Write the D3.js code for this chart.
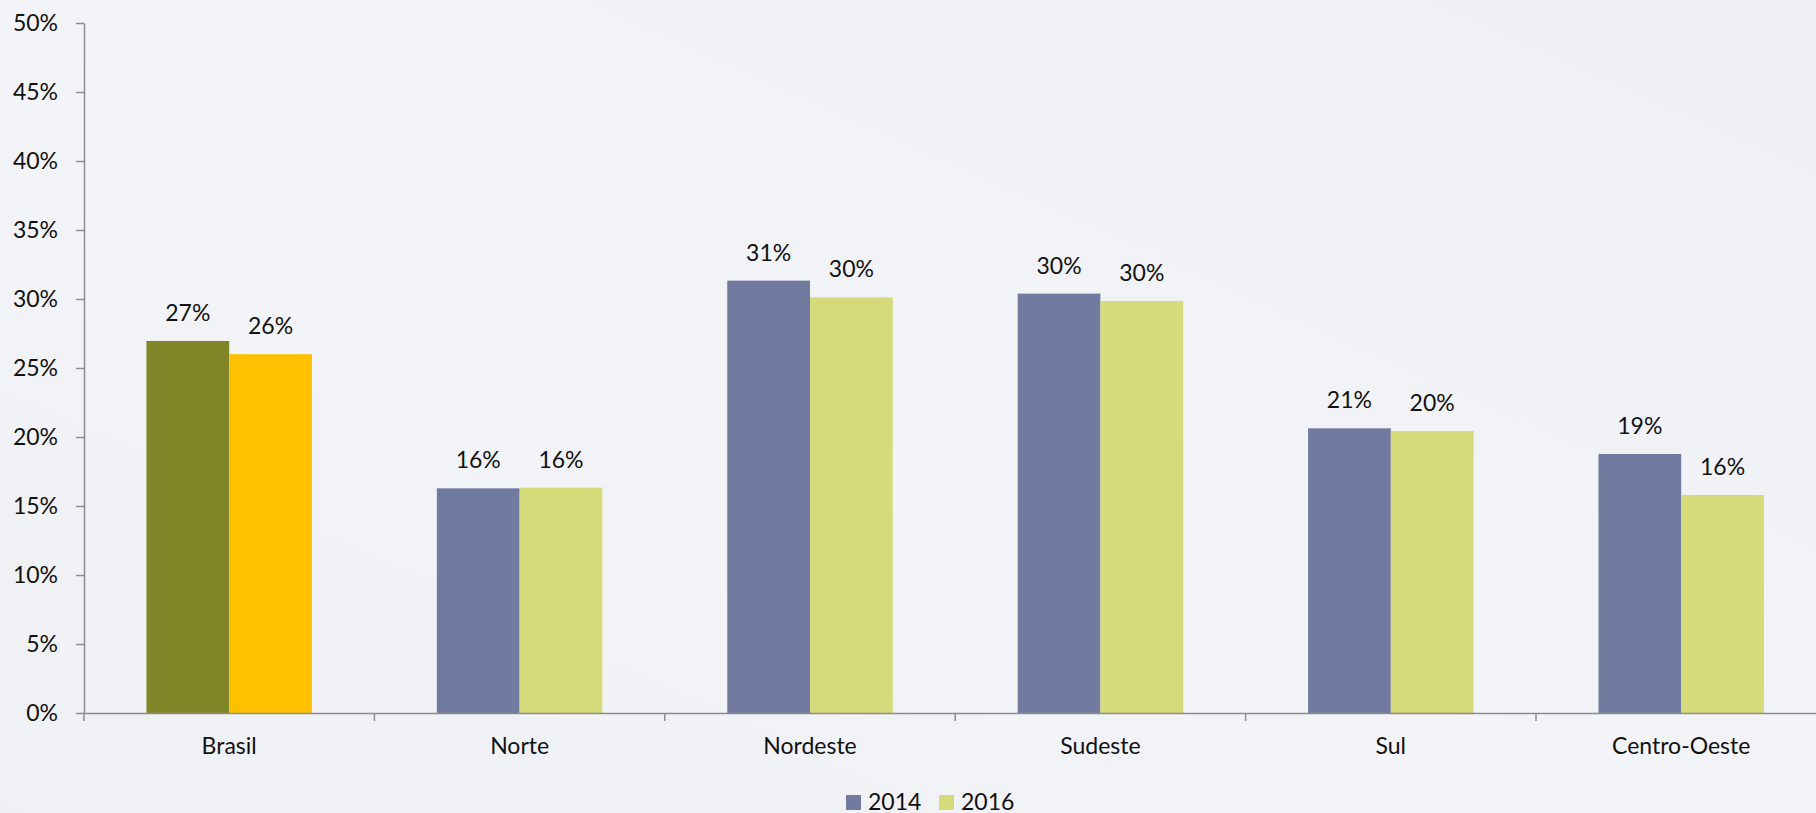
<!DOCTYPE html>
<html>
<head>
<meta charset="utf-8">
<script src="https://cdn.jsdelivr.net/npm/d3@7"></script>
<style>
  html, body { margin: 0; padding: 0; overflow: hidden; }
  body { width: 1816px; height: 813px; }
  text { font-family: Lato, "Open Sans", sans-serif; fill: #111; }
</style>
</head>
<body>
<svg id="chart"></svg>
<script>
var svg_width = 1816, svg_height = 813;
var margin = { top: 23, left: 84, bottom: 100 };

// data
var categories = ["Brasil", "Norte", "Nordeste", "Sudeste", "Sul", "Centro-Oeste"];
var series = ["2014", "2016"];
var values2014 = [0.2696, 0.1628, 0.3133, 0.3039, 0.2063, 0.1877];
var values2016 = [0.2600, 0.1633, 0.3012, 0.2986, 0.2043, 0.1580];
var labels2014 = ["27%", "16%", "31%", "30%", "21%", "19%"];
var labels2016 = ["26%", "16%", "30%", "30%", "20%", "16%"];
var yTicks = [0, 0.05, 0.10, 0.15, 0.20, 0.25, 0.30, 0.35, 0.40, 0.45, 0.50];

var colors = { "2014": "#717ba0", "2016": "#d5da7b" };
var brasilColors = { "2014": "#808527", "2016": "#ffc000" };

var bandWidth = 290.4;
var x = d3.scaleBand()
	.domain(categories)
	.range([margin.left, margin.left + bandWidth * categories.length])
	.paddingInner(0).paddingOuter(0);

var x1 = d3.scaleBand()
	.domain(series)
	.range([0, x.bandwidth()])
	.paddingInner(0).paddingOuter(0.755);

var y = d3.scaleLinear()
	.domain([0, 0.5])
	.range([713, margin.top]);

var svg = d3.select("#chart")
	.attr("width", svg_width)
	.attr("height", svg_height);

// background
var defs = svg.append("defs");
var grad = defs.append("linearGradient")
	.attr("id", "bg")
	.attr("x1", "0").attr("y1", "1").attr("x2", "1").attr("y2", "0");
grad.append("stop").attr("offset", "0").attr("stop-color", "#eff0f4");
grad.append("stop").attr("offset", "0.45").attr("stop-color", "#f3f4f7");
grad.append("stop").attr("offset", "0.7").attr("stop-color", "#f1f2f6");
grad.append("stop").attr("offset", "1").attr("stop-color", "#eeeff3");
svg.append("rect")
	.attr("width", svg_width).attr("height", svg_height)
	.attr("fill", "url(#bg)");

var rows = categories.map(function (c, i) {
	return {
		cat: c,
		vals: [
			{ key: "2014", v: values2014[i], label: labels2014[i] },
			{ key: "2016", v: values2016[i], label: labels2016[i] }
		]
	};
});

var groups = svg.selectAll(".grp")
	.data(rows)
	.enter().append("g")
	.attr("class", "grp")
	.attr("transform", function (d) { return "translate(" + x(d.cat) + ",0)"; });

groups.selectAll("rect")
	.data(function (d) { return d.vals.map(function (v) { v.cat = d.cat; return v; }); })
	.enter().append("rect")
	.attr("x", function (d) { return x1(d.key); })
	.attr("y", function (d) { return y(d.v); })
	.attr("width", x1.bandwidth())
	.attr("height", function (d) { return y(0) - y(d.v); })
	.attr("fill", function (d) { return d.cat == "Brasil" ? brasilColors[d.key] : colors[d.key]; });

groups.selectAll(".lbl")
	.data(function (d) { return d.vals; })
	.enter().append("text")
	.attr("class", "lbl")
	.attr("x", function (d) { return x1(d.key) + x1.bandwidth() / 2; })
	.attr("y", function (d) { return y(d.v) - 20; })
	.attr("text-anchor", "middle")
	.style("font-size", "23px")
	.text(function (d) { return d.label; });

// y axis
var yAxis = svg.append("g")
	.attr("transform", "translate(" + margin.left + ",0)")
	.call(d3.axisLeft(y).tickValues(yTicks).tickFormat(d3.format(".0%")).tickSize(8).tickSizeOuter(0).tickPadding(18));
yAxis.selectAll("text").style("font-size", "23px").attr("fill", "#111");
yAxis.selectAll("line, path").attr("stroke", "#8c8c8c").attr("stroke-width", 1.5);

// x axis
var xAxis = svg.append("g")
	.attr("transform", "translate(0," + y(0) + ")")
	.call(d3.axisBottom(x).tickSize(0).tickSizeOuter(0).tickPadding(25));
xAxis.selectAll("text").style("font-size", "23px").attr("fill", "#111");
xAxis.select(".domain").attr("stroke", "#8c8c8c").attr("stroke-width", 1.5);
xAxis.selectAll(".bnd")
	.data(categories)
	.enter().append("line")
	.attr("class", "bnd")
	.attr("x1", function (d) { return x(d); })
	.attr("x2", function (d) { return x(d); })
	.attr("y1", 0).attr("y2", 8)
	.attr("stroke", "#8c8c8c").attr("stroke-width", 1.5);

// legend
var legendX = { "2014": 846, "2016": 939 };
var legend = svg.selectAll(".leg")
	.data(series)
	.enter().append("g")
	.attr("class", "leg")
	.attr("transform", function (d) { return "translate(" + legendX[d] + ",795)"; });
legend.append("rect")
	.attr("width", 15).attr("height", 15)
	.attr("fill", function (d) { return colors[d]; });
legend.append("text")
	.attr("x", 22).attr("y", 15)
	.style("font-size", "23px")
	.text(function (d) { return d; });
</script>
</body>
</html>
